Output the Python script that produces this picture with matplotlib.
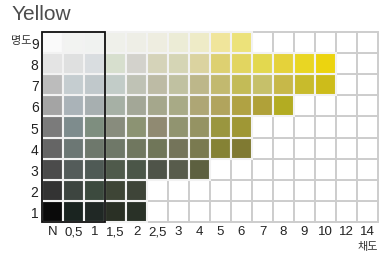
import matplotlib
matplotlib.use("Agg")
import matplotlib.pyplot as plt
from matplotlib.patches import Rectangle

title = "Yellow"
chroma_labels = ["N", "0,5", "1", "1,5", "2", "2,5", "3", "4", "5", "6", "7", "8", "9", "10", "12", "14"]
value_labels = ["1", "2", "3", "4", "5", "6", "7", "8", "9"]
y_axis_name = "명도"
x_axis_name = "채도"

# colours per value row (1..9), from chroma N upward; missing cells are empty (white)
row1 = ["#0a0a0a", "#1a2420", "#202825", "#2a3025", "#293127"]
row2 = ["#333333", "#3d4540", "#3c4a3e", "#3e4536", "#3e4438"]
row3 = ["#4b4b4b", "#545c5a", "#4f5a55", "#4f5a4b", "#4b5648", "#4f5449", "#585c4c", "#5d6040"]
row4 = ["#656565", "#6c7774", "#6e786c", "#6f7868", "#70775f", "#707659", "#74745a", "#7a7a50", "#858235", "#807a32"]
row5 = ["#7b7b7b", "#7e8c8d", "#7e8e7f", "#888c7d", "#8c9373", "#908a72", "#919470", "#959363", "#9a963f", "#9f9735"]
row6 = ["#a4a4a4", "#aab3b8", "#a7afb0", "#a6b0a5", "#a3a797", "#a5a78c", "#a8aa86", "#aea675", "#b1a45d", "#b0a243",
        "#b0a139", "#b3ac22"]
row7 = ["#bcbcbc", "#c5cdd0", "#c0c8cb", "#c2ccc8", "#bfc2b5", "#bdbba5", "#c0c1a1", "#bdb78a", "#c2b96f", "#c3bb57",
        "#c6c06a", "#c7b849", "#c8bb2c", "#cdbc1a"]
row8 = ["#e4e4e4", "#dfe0e0", "#d9dde0", "#d7dfce", "#d3d2cc", "#d5d3b9", "#d5d5b5", "#dbd3a0", "#ddd071", "#e2d560",
        "#e3d84f", "#e5d23a", "#e9d623", "#ecd40f"]
row9 = ["#fafafa", "#f2f3f1", "#f0f2f0", "#eff0ea", "#eeeee6", "#eeede0", "#ececd6", "#eeebc7", "#f0e59b", "#ece27a"]
rows = [row1, row2, row3, row4, row5, row6, row7, row8, row9]
highlight_cols = 3  # N, 0.5, 1

W, H = 385, 255
fig = plt.figure(figsize=(W / 100, H / 100), dpi=100)
ax = fig.add_axes([42 / W, (H - 223) / H, (378 - 42) / W, (223 - 33) / H])
ncol = len(chroma_labels)
nrow = len(value_labels)
ax.set_xlim(0, ncol)
ax.set_ylim(0, nrow)
for s in ax.spines.values():
    s.set_visible(False)

# empty cells first
for j in range(nrow):
    for i in range(ncol):
        ax.add_patch(Rectangle((i, j), 1, 1, facecolor="white", edgecolor="#cdcdcd", linewidth=1.4, zorder=1,
                               clip_on=False))
for j, r in enumerate(rows):
    for i, c in enumerate(r):
        ax.add_patch(Rectangle((i, j), 1, 1, facecolor=c, edgecolor="#f2f2f2", linewidth=1.5, zorder=2,
                               clip_on=False))

ax.add_patch(Rectangle((0, 0), highlight_cols, nrow, facecolor="none", edgecolor="#111111", linewidth=1.3, zorder=5,
                       clip_on=False))

narrow = ["Liberation Sans Narrow", "Liberation Sans", "DejaVu Sans"]
ax.set_xticks([i + 0.5 for i in range(ncol)])
ax.set_xticklabels(chroma_labels, fontsize=9.5, family=narrow, color="#222222")
ax.set_yticks([j + 0.5 for j in range(nrow)])
ax.set_yticklabels(value_labels, fontsize=10, family=narrow, color="#222222")
ax.tick_params(length=0, pad=2.5)

fig.text(12 / W, 1 - 15 / H, title, fontsize=15, color="#4d4d4d", family=["Liberation Sans", "DejaVu Sans"],
         va="center", ha="left")
fig.text(21 / W, 1 - 41 / H, y_axis_name, fontsize=8, color="#333333", family=["Noto Sans CJK KR"],
         va="center", ha="center", rotation=0)
fig.text(368 / W, 1 - 247 / H, x_axis_name, fontsize=8, color="#333333", family=["Noto Sans CJK KR"],
         va="center", ha="center", rotation=0)

fig.savefig("out.png", dpi=100)
